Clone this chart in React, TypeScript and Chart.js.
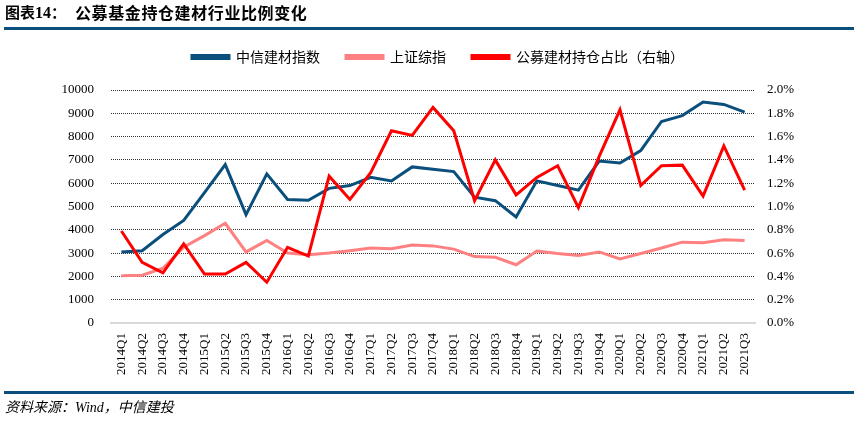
import React, { useEffect, useRef } from "react";
import { Chart, registerables } from "chart.js";

Chart.register(...registerables);

const categories = [
  "2014Q1", "2014Q2", "2014Q3", "2014Q4",
  "2015Q1", "2015Q2", "2015Q3", "2015Q4",
  "2016Q1", "2016Q2", "2016Q3", "2016Q4",
  "2017Q1", "2017Q2", "2017Q3", "2017Q4",
  "2018Q1", "2018Q2", "2018Q3", "2018Q4",
  "2019Q1", "2019Q2", "2019Q3", "2019Q4",
  "2020Q1", "2020Q2", "2020Q3", "2020Q4",
  "2021Q1", "2021Q2", "2021Q3",
];

const citicBuildingMaterials = [
  3050, 3100, 3800, 4400,
  5600, 6800, 4650, 6400,
  5300, 5270, 5780, 5900,
  6250, 6100, 6700, 6600,
  6500, 5400, 5250, 4550,
  6100, 5900, 5700, 6950,
  6870, 7400, 8650, 8900,
  9480, 9380, 9050,
];

const shanghaiComposite = [
  2030, 2050, 2350, 3250,
  3750, 4280, 3050, 3540,
  3000, 2930, 3000, 3100,
  3220, 3190, 3350, 3310,
  3170, 2850, 2820, 2500,
  3090, 2980, 2900, 3050,
  2750, 2980, 3220, 3470,
  3440, 3570, 3540,
];

const fundHoldingPct = [
  0.79, 0.52, 0.43, 0.68,
  0.42, 0.42, 0.52, 0.35,
  0.65, 0.575, 1.26, 1.06,
  1.29, 1.65, 1.61, 1.85,
  1.65, 1.05, 1.40, 1.10,
  1.25, 1.35, 0.99, 1.43,
  1.83, 1.18, 1.35, 1.355,
  1.09, 1.52, 1.14,
];

const seriesNames = ["中信建材指数", "上证综指", "公募建材持仓占比（右轴）"];

const BLUE = "#0B4F7C";
const PINK = "#FF8080";
const RED = "#FF0000";

const legendShift = {
  id: "legendShift",
  afterLayout(chart: any) {
    const lg = chart.legend;
    if (lg) {
      lg.left += 11;
      lg.right += 11;
      lg.top -= 16;
      lg.bottom -= 16;
    }
  },
};

export default function App() {
  const canvasRef = useRef<HTMLCanvasElement | null>(null);

  useEffect(() => {
    document.body.style.margin = "0";
    const canvas = canvasRef.current;
    if (!canvas) return;
    const chart = new Chart(canvas, {
      type: "line",
      data: {
        labels: categories,
        datasets: [
          {
            label: seriesNames[0],
            data: citicBuildingMaterials,
            borderColor: BLUE,
            backgroundColor: BLUE,
            borderWidth: 3,
            pointRadius: 0,
            yAxisID: "y",
            order: 1,
          },
          {
            label: seriesNames[1],
            data: shanghaiComposite,
            borderColor: PINK,
            backgroundColor: PINK,
            borderWidth: 3,
            pointRadius: 0,
            yAxisID: "y",
            order: 2,
          },
          {
            label: seriesNames[2],
            data: fundHoldingPct,
            borderColor: RED,
            backgroundColor: RED,
            borderWidth: 3,
            pointRadius: 0,
            yAxisID: "y1",
            order: 0,
          },
        ],
      },
      plugins: [legendShift],
      options: {
        animation: false,
        responsive: false,
        maintainAspectRatio: false,
        layout: { padding: { top: 40, left: 0, right: 0, bottom: 0 } },
        plugins: {
          tooltip: { enabled: false },
          legend: {
            display: true,
            position: "top",
            labels: {
              boxWidth: 37,
              boxHeight: 3,
              padding: 26,
              color: "#000",
              font: { family: "'Noto Sans CJK SC', sans-serif", size: 14 },
              sort: (a: any, b: any) => a.datasetIndex - b.datasetIndex,
            },
          },
        },
        scales: {
          x: {
            type: "category",
            offset: true,
            grid: { display: false, drawTicks: false },
            border: { display: true, color: "#d9d9d9", width: 2 },
            ticks: {
              autoSkip: false,
              maxRotation: 90,
              minRotation: 90,
              padding: 10,
              color: "#000",
              font: { family: "'Liberation Serif', serif", size: 13 },
            },
            afterFit: (s: any) => {
              s.height = 98;
            },
          },
          y: {
            type: "linear",
            position: "left",
            min: 0,
            max: 10000,
            ticks: {
              stepSize: 1000,
              padding: 17,
              color: "#000",
              font: { family: "'Liberation Serif', serif", size: 13 },
              callback: (v: any) => String(v),
            },
            grid: {
              drawTicks: false,
              color: (ctx: any) => (ctx.tick && ctx.tick.value === 0 ? "rgba(0,0,0,0)" : "#333"),
              lineWidth: 1,
            },
            border: { display: false, dash: [1, 1] },
            afterFit: (s: any) => {
              s.width = 111;
            },
          },
          y1: {
            type: "linear",
            position: "right",
            min: 0,
            max: 2,
            ticks: {
              stepSize: 0.2,
              padding: 12,
              color: "#000",
              font: { family: "'Liberation Serif', serif", size: 13 },
              callback: (v: any) => Number(v).toFixed(1) + "%",
            },
            grid: { display: false, drawTicks: false },
            border: { display: false },
            afterFit: (s: any) => {
              s.width = 99;
            },
          },
        },
      },
    });
    return () => chart.destroy();
  }, []);

  return (
    <div style={{ position: "relative", width: 854, height: 421, background: "#fff", overflow: "hidden" }}>
      <canvas ref={canvasRef} width={854} height={421} style={{ position: "absolute", left: 0, top: 0 }} />
      <div
        style={{
          position: "absolute",
          left: 5,
          top: 1,
          fontFamily: "'Noto Sans CJK SC', sans-serif",
          fontWeight: 700,
          fontSize: 15,
          lineHeight: "22px",
          color: "#000",
          whiteSpace: "nowrap",
        }}
      >
        图表<span style={{ fontFamily: "'Liberation Serif', serif", fontSize: 16 }}>14</span>：
        <span style={{ position: "absolute", left: 70, top: 0, fontSize: 16, letterSpacing: 0.6 }}>公募基金持仓建材行业比例变化</span>
      </div>
      <div style={{ position: "absolute", left: 4, right: 0, top: 27, height: 3, background: "#0B4F7C" }} />
      <div style={{ position: "absolute", left: 4, right: 0, top: 391, height: 3, background: "#0B4F7C" }} />
      <div
        style={{
          position: "absolute",
          left: 5,
          top: 398,
          fontFamily: "'Liberation Serif', 'Noto Sans CJK SC', serif",
          fontStyle: "italic",
          fontSize: 14,
          lineHeight: "20px",
          color: "#000",
          whiteSpace: "nowrap",
        }}
      >
        资料来源：Wind，中信建投
      </div>
    </div>
  );
}
